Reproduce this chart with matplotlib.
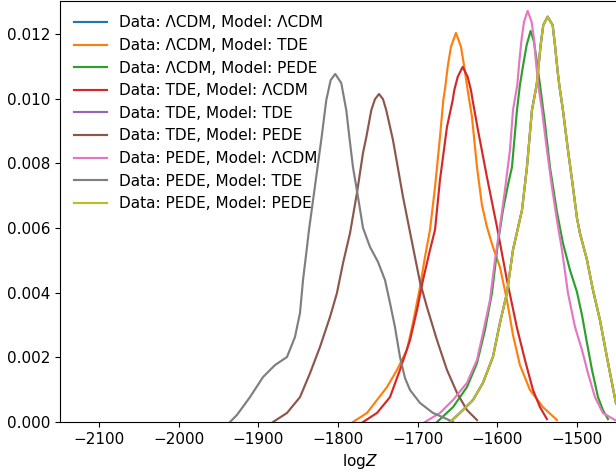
import matplotlib
matplotlib.use('Agg')
import matplotlib.pyplot as plt

# curves (logZ, density)
gray_x = [-1935.6, -1926.8, -1910.5, -1894.1, -1879.1, -1864.0, -1854.0, -1847.7, -1843.9, -1838.9,
          -1836.4, -1821.0, -1814.7, -1809.2, -1803.4, -1795.9, -1789.6, -1785.3, -1781.2, -1774.9,
          -1768.6, -1759.8, -1749.8, -1741.0, -1734.7, -1728.5, -1722.2, -1715.9, -1709.6, -1697.1,
          -1680.8, -1663.2, -1655.6]
gray_y = [0.0, 0.00022, 0.00077, 0.00139, 0.00176, 0.00201, 0.00263, 0.00337, 0.00439, 0.00541,
          0.00594, 0.00872, 0.00995, 0.01057, 0.01076, 0.01048, 0.00964, 0.00872, 0.00788, 0.00696,
          0.00600, 0.00541, 0.00495, 0.00439, 0.00368, 0.00294, 0.00201, 0.00136, 0.00099, 0.00059,
          0.00028, 0.00009, 0.0]

brown_x = [-1881.6, -1864.0, -1847.7, -1835.1, -1822.6, -1810.0, -1801.3, -1793.7, -1784.9, -1776.2,
           -1768.6, -1764.5, -1758.2, -1753.6, -1748.5, -1743.5, -1739.4, -1731.0, -1725.9, -1718.4,
           -1709.6, -1697.1, -1688.3, -1675.7, -1663.2, -1650.6, -1638.1, -1625.5]
brown_y = [0.0, 0.00028, 0.00077, 0.00151, 0.00232, 0.00325, 0.00399, 0.00491, 0.00584, 0.00708,
           0.00832, 0.00880, 0.00964, 0.00998, 0.01014, 0.00998, 0.00964, 0.00872, 0.00801, 0.00696,
           0.00587, 0.00433, 0.00355, 0.00253, 0.00161, 0.00090, 0.00037, 0.00006]

orange_x = [-1781.2, -1763.6, -1751.0, -1738.5, -1725.9, -1713.4, -1705.9, -1697.1, -1690.8, -1684.5,
            -1678.2, -1672.0, -1667.8, -1665.3, -1662.3, -1658.2, -1651.9, -1645.6, -1641.5, -1637.2,
            -1635.2, -1631.8, -1625.5, -1619.3, -1613.0, -1605.5, -1596.7, -1587.9, -1580.3, -1571.6,
            -1559.0, -1542.7, -1525.1]
orange_y = [0.0, 0.00028, 0.00068, 0.00108, 0.00161, 0.00223, 0.00306, 0.00417, 0.00510, 0.00594,
            0.00726, 0.00880, 0.00995, 0.01036, 0.01098, 0.01160, 0.01203, 0.01160, 0.01098, 0.01026,
            0.00995, 0.00943, 0.00788, 0.00671, 0.00603, 0.00541, 0.00479, 0.00377, 0.00269, 0.00176,
            0.00099, 0.00046, 0.00006]

red_x = [-1768.6, -1751.0, -1734.7, -1722.2, -1709.6, -1700.8, -1693.3, -1684.5, -1678.2, -1672.0,
         -1663.2, -1656.0, -1654.0, -1649.7, -1643.5, -1637.2, -1633.1, -1631.0, -1624.3, -1613.0,
         -1600.4, -1587.9, -1575.3, -1565.3, -1555.2, -1546.4, -1537.7]
red_y = [0.0, 0.00028, 0.00077, 0.00161, 0.00253, 0.00346, 0.00439, 0.00532, 0.00594, 0.00748,
         0.00912, 0.00995, 0.01026, 0.01067, 0.01098, 0.01067, 0.01026, 0.00995, 0.00903, 0.00757,
         0.00603, 0.00439, 0.00291, 0.00192, 0.00099, 0.00046, 0.00009]

pink_x = [-1690.8, -1672.0, -1655.6, -1638.1, -1625.5, -1618.0, -1609.2, -1602.9, -1596.7, -1590.4,
          -1584.1, -1580.3, -1574.9, -1572.4, -1569.4, -1566.5, -1561.9, -1556.9, -1554.0, -1551.5,
          -1548.6, -1543.9, -1537.7, -1531.4, -1525.1, -1518.8, -1511.3, -1502.5, -1493.7, -1486.2,
          -1477.4, -1467.4, -1452.3, -1439.8]
pink_y = [0.0, 0.00028, 0.00068, 0.00121, 0.00192, 0.00275, 0.00377, 0.00501, 0.00603, 0.00717,
          0.00841, 0.00964, 0.01042, 0.01114, 0.01186, 0.01237, 0.01271, 0.01237, 0.01186, 0.01114,
          0.01042, 0.00964, 0.00841, 0.00726, 0.00624, 0.00532, 0.00399, 0.00294, 0.00223, 0.00151,
          0.00077, 0.00028, 0.00006, 0.0]

green_x = [-1675.7, -1655.6, -1638.1, -1625.5, -1615.5, -1606.7, -1599.2, -1592.9, -1586.6, -1581.6,
           -1575.3, -1571.6, -1567.5, -1563.2, -1558.2, -1554.0, -1549.8, -1546.4, -1540.2, -1533.9,
           -1525.1, -1517.6, -1508.8, -1500.0, -1493.7, -1487.4, -1481.1, -1473.6, -1467.4, -1461.0]
green_y = [0.0, 0.00046, 0.00108, 0.00182, 0.00284, 0.00399, 0.00553, 0.00655, 0.00733, 0.00788,
           0.00964, 0.01042, 0.01104, 0.01165, 0.01209, 0.01176, 0.01104, 0.01042, 0.00924, 0.00788,
           0.00649, 0.00553, 0.00470, 0.00402, 0.00331, 0.00244, 0.00161, 0.00077, 0.00037, 0.00009]

yellow_x = [-1659.4, -1646.9, -1630.5, -1618.0, -1605.5, -1596.7, -1587.9, -1580.3, -1569.0, -1562.8,
            -1556.5, -1550.6, -1548.9, -1545.6, -1542.3, -1536.8, -1530.5, -1527.6, -1524.2, -1522.2,
            -1517.6, -1511.3, -1505.0, -1500.0, -1496.3, -1487.4, -1479.9, -1471.1, -1462.4, -1456.1,
            -1451.1, -1442.3, -1431.0]
yellow_y = [0.0, 0.00028, 0.00068, 0.00121, 0.00201, 0.00306, 0.00399, 0.00532, 0.00655, 0.00788,
            0.00964, 0.01042, 0.01083, 0.01165, 0.01227, 0.01253, 0.01227, 0.01165, 0.01083, 0.01042,
            0.00964, 0.00841, 0.00726, 0.00631, 0.00584, 0.00501, 0.00408, 0.00315, 0.00201, 0.00121,
            0.00059, 0.00022, 0.00003]

labels = ['Data: ΛCDM, Model: ΛCDM', 'Data: ΛCDM, Model: TDE', 'Data: ΛCDM, Model: PEDE',
          'Data: TDE, Model: ΛCDM', 'Data: TDE, Model: TDE', 'Data: TDE, Model: PEDE',
          'Data: PEDE, Model: ΛCDM', 'Data: PEDE, Model: TDE', 'Data: PEDE, Model: PEDE']
# blue and purple sit under the yellow curve in the picture
curves = [(yellow_x, yellow_y), (orange_x, orange_y), (green_x, green_y),
          (red_x, red_y), (yellow_x, yellow_y), (brown_x, brown_y),
          (pink_x, pink_y), (gray_x, gray_y), (yellow_x, yellow_y)]

plt.rcParams['font.size'] = 11

fig = plt.figure(figsize=(6.16, 4.73), dpi=100)
ax = fig.add_axes([60/616, 51/473, 599/616, 420.5/473])

for (x, y), lab in zip(curves, labels):
    ax.plot(x, y, lw=1.55, label=lab, solid_joinstyle='round')

ax.set_xlim(-2149, -1397)
ax.set_ylim(0, 0.013)
ax.set_xticks([-2100, -2000, -1900, -1800, -1700, -1600, -1500])
ax.set_yticks([0.0, 0.002, 0.004, 0.006, 0.008, 0.010, 0.012])
ax.set_xlabel(r'log$Z$')
ax.legend(loc='upper left', frameon=False, labelspacing=0.5, handlelength=2.15)

fig.savefig('out.png', dpi=100)
